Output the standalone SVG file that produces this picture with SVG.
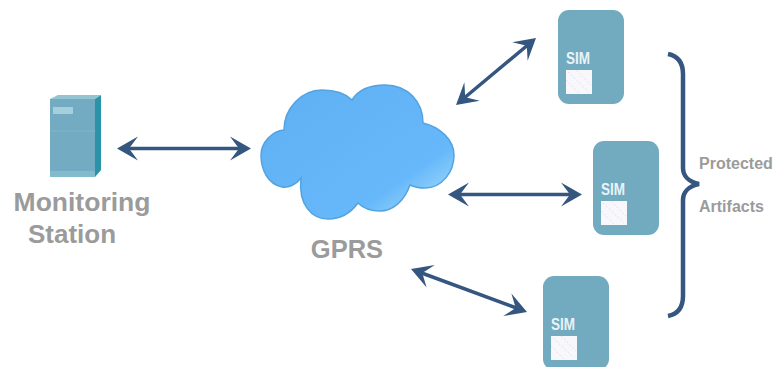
<svg xmlns="http://www.w3.org/2000/svg" width="779" height="367" viewBox="0 0 779 367">
<style>
text{font-family:"Liberation Sans",Arial,sans-serif;font-weight:700}
.lab{fill:#9b9b9b}
.card{fill:#72abc0}
.simt{fill:#e9f3f7;font-size:16px}
.chip{fill:#f8f7fc}
.hat{stroke:#d9d5ea;stroke-width:.7;stroke-dasharray:2 2;fill:none}
.conn{stroke:#34567f;stroke-width:3.500;fill:none}
.head{fill:#34567f}
</style>
<defs>
<linearGradient id="cl" x1="0" y1="0" x2="1" y2="1"><stop offset="0" stop-color="#5eb0f2"/><stop offset=".72" stop-color="#66b8fa"/><stop offset=".86" stop-color="#90d0fb"/><stop offset="1" stop-color="#66b8fa"/></linearGradient>
<g id="arrow"><path class="head" d="M0 0 L-21 -12 L-12 0 L-21 12Z"/></g>
<g id="simcard">
<rect class="card" x="0" y="0" width="66" height="94" rx="11"/>
<text class="simt" x="8" y="53.500" textLength="24" lengthAdjust="spacingAndGlyphs">SIM</text>
<rect class="chip" x="8" y="60" width="26" height="24"/>
<path class="hat" d="M10 62L31 82M8 70L22 84M18 60L33 75"/>
</g>
</defs>
<g id="station">
<path d="M50 99L58 95H101L95 99Z" fill="#94c3d2"/>
<rect x="50" y="99" width="45" height="78" fill="#72abc2"/>
<path d="M95 99L101 95V170L95 177Z" fill="#2a93a8"/>
<rect x="53" y="107" width="20" height="7" fill="#a5cfdc"/>
<path d="M50 131H95" stroke="#7fb5c8" stroke-width="1"/>
<rect x="50" y="171" width="45" height="6" fill="#80bccb"/>
<text class="lab" x="82" y="211" font-size="26.500" text-anchor="middle">Monitoring</text>
<text class="lab" x="72" y="243" font-size="26" text-anchor="middle">Station</text>
</g>
<g id="cloud">
<path d="M284 130C284 108 302 90 322 90C335 90 345 93 352 100C358 90 370 85 385 85C408 85 423 102 423 123C440 127 454 140 454 155C454 172 442 188 425 188C419 188 414 187 410 185C404 202 392 211 380 211C371 211 363 208 358 203C350 214 340 219 328 219C312 219 298 205 301 178C296 185 288 188 282 187C268 184 261 170 261 155C261 143 272 131 284 130Z" fill="url(#cl)" stroke="#52a3e2" stroke-width="1.500"/>
<text class="lab" x="347" y="258" font-size="25.500" text-anchor="middle">GPRS</text>
</g>
<g id="sim1"><use href="#simcard" x="558" y="10"/></g>
<g id="sim2"><use href="#simcard" x="593" y="141"/></g>
<g id="sim3"><use href="#simcard" x="543" y="276" /></g>
<g id="connectors">
<path class="conn" d="M125 148.500H243"/>
<use href="#arrow" transform="translate(251 148.500)"/><use href="#arrow" transform="translate(117 148.500) rotate(180)"/>
<path class="conn" d="M463 99L529 44"/>
<use href="#arrow" transform="translate(536 38) rotate(-40)"/><use href="#arrow" transform="translate(456 105) rotate(140)"/>
<path class="conn" d="M456 194.500H574"/>
<use href="#arrow" transform="translate(582 194.500)"/><use href="#arrow" transform="translate(448 194.500) rotate(180)"/>
<path class="conn" d="M419 272L519 309"/>
<use href="#arrow" transform="translate(527 312) rotate(20)"/><use href="#arrow" transform="translate(411 269) rotate(200)"/>
<path d="M668 54C678 56 683 62 683 74V168C683 176 689 182 699 184C689 186 683 192 683 200V296C683 308 678 314 668 316" stroke="#34567f" stroke-width="4.500" fill="none"/>
</g>
<g id="label">
<text class="lab" x="699" y="169" font-size="16">Protected</text>
<text class="lab" x="699" y="212" font-size="16">Artifacts</text>
</g>
</svg>
